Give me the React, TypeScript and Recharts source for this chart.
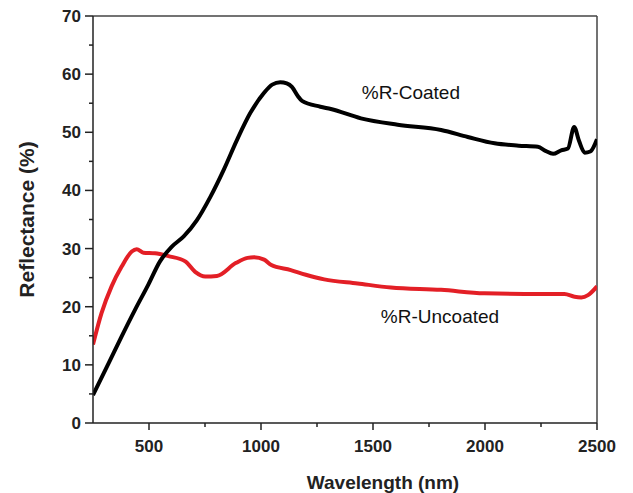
import { LineChart, Line, XAxis, YAxis, ReferenceLine, ReferenceDot, Label } from "recharts";

// %R-Coated (black)
const coatedWavelength = [
  250, 320, 378, 438, 497, 549, 601, 655, 714, 774, 833, 893, 952, 1012, 1050, 1086, 1115, 1138,
  1165, 1183, 1265, 1312, 1446, 1610, 1804, 1923, 2043, 2150, 2236, 2270, 2304, 2340, 2370, 2398,
  2420, 2445, 2470, 2500,
];
const coatedReflectance = [
  4.8, 10.3, 14.9, 19.5, 23.8, 27.8, 30.3, 32.1, 34.9, 38.9, 43.5, 48.7, 53.3, 56.7, 58.2, 58.6,
  58.4, 57.8, 56.2, 55.4, 54.4, 54.0, 52.4, 51.3, 50.4, 49.2, 48.1, 47.7, 47.5, 46.8, 46.3, 46.9,
  47.2, 50.9, 48.5, 46.5, 46.7, 48.8,
];

// %R-Uncoated (red)
const uncoatedWavelength = [
  250, 288, 333, 378, 423, 445, 475, 527, 587, 662, 706, 751, 803, 887, 940, 969, 1014, 1044,
  1133, 1200, 1282, 1431, 1580, 1804, 1997, 2176, 2355, 2400, 2430, 2460, 2500,
];
const uncoatedReflectance = [
  13.5, 18.9, 23.5, 26.9, 29.5, 29.9, 29.3, 29.2, 28.7, 27.8, 26.0, 25.2, 25.3, 27.5, 28.4, 28.5,
  28.1, 27.2, 26.3, 25.5, 24.7, 24.0, 23.3, 22.9, 22.3, 22.2, 22.2, 21.7, 21.6, 22.0, 23.5,
];

const xTicks = [500, 750, 1000, 1250, 1500, 1750, 2000, 2250, 2500];
const yTicks = [0, 5, 10, 15, 20, 25, 30, 35, 40, 45, 50, 55, 60, 65, 70];

const coatedData = coatedWavelength.map((x, i) => ({ x, r: coatedReflectance[i] }));
const uncoatedData = uncoatedWavelength.map((x, i) => ({ x, r: uncoatedReflectance[i] }));

const FONT = "'Liberation Sans', Arial, Helvetica, sans-serif";
const AXIS = "#222";

const XTick = (props: any) => {
  const { x, y, payload } = props;
  const major = payload.value % 500 === 0;
  return (
    <g>
      <line x1={x} x2={x} y1={y} y2={y + (major ? 7 : 4)} stroke={AXIS} strokeWidth={1.5} />
      {major && (
        <text x={x} y={y + 28.5} textAnchor="middle" fontSize={17} fontWeight="bold" fill="#222" fontFamily={FONT}>
          {payload.value}
        </text>
      )}
    </g>
  );
};

const YTick = (props: any) => {
  const { x, y, payload } = props;
  const major = payload.value % 10 === 0;
  return (
    <g>
      <line x1={x} x2={x - (major ? 8 : 4)} y1={y} y2={y} stroke={AXIS} strokeWidth={1.5} />
      {major && (
        <text x={x - 12} y={y + 6} textAnchor="end" fontSize={17} fontWeight="bold" fill="#222" fontFamily={FONT}>
          {payload.value}
        </text>
      )}
    </g>
  );
};

export default function App() {
  return (
    <div style={{ position: "absolute", left: 0, top: 0, background: "#fff" }}>
      <LineChart width={633} height={493} margin={{ top: 16, right: 36, bottom: 0, left: 0 }}>
        <XAxis
          type="number"
          dataKey="x"
          domain={[250, 2500]}
          ticks={xTicks}
          allowDataOverflow
          height={70}
          tickSize={0}
          tickMargin={0}
          tick={<XTick />}
          tickLine={false}
          axisLine={{ stroke: AXIS, strokeWidth: 1.5 }}
        >
          <Label
            content={(p: any) => {
              const vb = p.viewBox;
              return (
                <text
                  x={vb.x + vb.width / 2 + 38}
                  y={489}
                  textAnchor="middle"
                  fontSize={19}
                  fontWeight="bold"
                  fill="#222"
                  fontFamily={FONT}
                >
                  Wavelength (nm)
                </text>
              );
            }}
          />
        </XAxis>
        <YAxis
          type="number"
          dataKey="r"
          domain={[0, 70]}
          ticks={yTicks}
          width={93}
          tickSize={0}
          tickMargin={0}
          tick={<YTick />}
          tickLine={false}
          axisLine={{ stroke: AXIS, strokeWidth: 1.5 }}
        >
          <Label
            content={(p: any) => {
              const vb = p.viewBox;
              const cy = vb.y + vb.height / 2;
              return (
                <text
                  x={33.5}
                  y={cy}
                  transform={`rotate(-90, 33.5, ${cy})`}
                  textAnchor="middle"
                  fontSize={21}
                  fontWeight="bold"
                  fill="#222"
                  fontFamily={FONT}
                >
                  Reflectance (%)
                </text>
              );
            }}
          />
        </YAxis>
        <ReferenceLine y={70} stroke="#444" strokeWidth={1.5} />
        <ReferenceLine x={2500} stroke="#444" strokeWidth={1.5} />
        <Line
          data={uncoatedData}
          dataKey="r"
          type="monotone"
          stroke="#e31f26"
          strokeWidth={4}
          dot={false}
          activeDot={false}
          isAnimationActive={false}
        />
        <Line
          data={coatedData}
          dataKey="r"
          type="monotone"
          stroke="#000"
          strokeWidth={4}
          dot={false}
          activeDot={false}
          isAnimationActive={false}
        />
        <ReferenceDot
          x={1669}
          y={56.8}
          r={0}
          label={{ value: "%R-Coated", position: "center", fontSize: 19, fill: "#111", fontFamily: FONT }}
        />
        <ReferenceDot
          x={1799}
          y={18.3}
          r={0}
          label={{ value: "%R-Uncoated", position: "center", fontSize: 19, fill: "#111", fontFamily: FONT }}
        />
      </LineChart>
    </div>
  );
}
